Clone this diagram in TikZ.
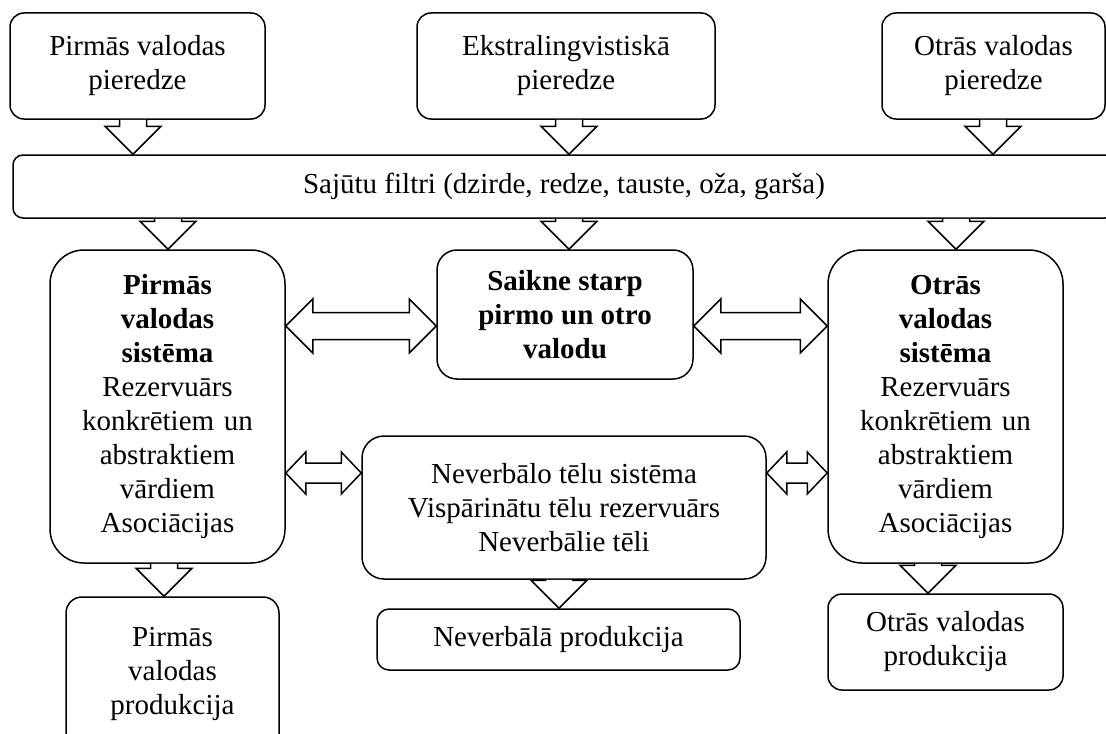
\documentclass[tikz,border=0pt]{standalone}
\usepackage{fontspec}
\setmainfont{Liberation Serif}
\usetikzlibrary{calc}

% block arrow pointing down: from node, to node, x position (px)
\newcommand{\downblock}[3]{%
  \coordinate (bx) at (#3,0);
  \draw[blockarrow] let \p1=(#1.south), \p2=(#2.north), \p3=(bx) in
    (\x3-6.75pt,\y1) -- (\x3-6.75pt,\y2+14pt) -- (\x3-14pt,\y2+14pt) -- (\x3,\y2)
    -- (\x3+14pt,\y2+14pt) -- (\x3+6.75pt,\y2+14pt) -- (\x3+6.75pt,\y1);
}
% double block arrow: left node, right node, y (px), shaft half, head half, head length
\newcommand{\dblblock}[6]{%
  \coordinate (by) at (0,#3);
  \draw[blockarrow] let \p1=(#1.east), \p2=(#2.west), \p3=(by) in
    (\x1,\y3) -- (\x1+#6,\y3+#5) -- (\x1+#6,\y3+#4) -- (\x2-#6,\y3+#4)
    -- (\x2-#6,\y3+#5) -- (\x2,\y3) -- (\x2-#6,\y3-#5) -- (\x2-#6,\y3-#4)
    -- (\x1+#6,\y3-#4) -- (\x1+#6,\y3-#5) -- cycle;
}

\begin{document}
\begin{tikzpicture}[
  x=0.5pt, y=-0.5pt,
  every node/.style={draw, line width=0.75pt, rectangle, align=center, inner sep=0pt,
    font=\fontsize{14.5}{17}\selectfont},
  box/.style={rounded corners=7pt},
  sysbox/.style={rounded corners=17pt, minimum width=117.5pt, text width=110pt},
  blockarrow/.style={draw, line width=0.75pt, line join=miter, fill=white}
]
\useasboundingbox (0,0) rectangle (1106,733);
\clip (0,0) rectangle (1106,733);

% sources
\node[box, minimum width=127.5pt, minimum height=53pt] (pa) at (137.5,66) {Pirmās valodas\\pieredze};
\node[box, minimum width=149pt, minimum height=53pt] (ea) at (566,66) {Ekstralingvistiskā\\pieredze};
\node[box, minimum width=111.5pt, minimum height=53pt] (oa) at (993.5,66) {Otrās valodas\\pieredze};

% filter
\node[rounded corners=5pt, minimum width=551pt, minimum height=31.5pt] (filt) at (564,186.5)
  {Sajūtu filtri (dzirde, redze, tauste, oža, garša)};

% language systems
\node[sysbox, minimum height=156.5pt] (lsys) at (167.5,406.5)
  {\textbf{Pirmās}\\\textbf{valodas}\\\textbf{sistēma}\\Rezervuārs\\konkrētiem un\\abstraktiem\\vārdiem\\Asociācijas};
\node[rounded corners=10pt, minimum width=128pt, minimum height=64.5pt] (saik) at (565,314.5)
  {\textbf{Saikne starp}\\\textbf{pirmo un otro}\\\textbf{valodu}};
\node[sysbox, minimum height=156.5pt] (rsys) at (945.5,406.5)
  {\textbf{Otrās}\\\textbf{valodas}\\\textbf{sistēma}\\Rezervuārs\\konkrētiem un\\abstraktiem\\vārdiem\\Asociācijas};
\node[rounded corners=11pt, minimum width=202pt, minimum height=71.5pt] (nev) at (564,507.5)
  {Neverbālo tēlu sistēma\\Vispārinātu tēlu rezervuārs\\Neverbālie tēli};

% production
\node[box, rounded corners=8pt, minimum width=106.5pt, minimum height=76.5pt] (pprod) at (172.5,673.5) {Pirmās\\valodas\\produkcija};
\node[rounded corners=6pt, minimum width=181.5pt, minimum height=30.5pt] (nprod) at (558.5,639.5) {Neverbālā produkcija};
\node[box, minimum width=117.5pt, minimum height=48pt] (oprod) at (945.5,642) {Otrās valodas\\produkcija};

% arrows
\downblock{pa}{filt}{133}
\downblock{ea}{filt}{569}
\downblock{oa}{filt}{993}
\downblock{filt}{lsys}{168}
\downblock{filt}{saik}{569}
\downblock{filt}{rsys}{956}
\downblock{lsys}{pprod}{164}
\downblock{nev}{nprod}{559}
\downblock{rsys}{oprod}{928}
\dblblock{lsys}{saik}{326}{6.75pt}{13.5pt}{13.5pt}
\dblblock{saik}{rsys}{326}{6.75pt}{13.5pt}{13.5pt}
\dblblock{lsys}{nev}{473}{5pt}{10.5pt}{10pt}
\dblblock{nev}{rsys}{473}{5pt}{10.5pt}{10pt}
\end{tikzpicture}
\end{document}
